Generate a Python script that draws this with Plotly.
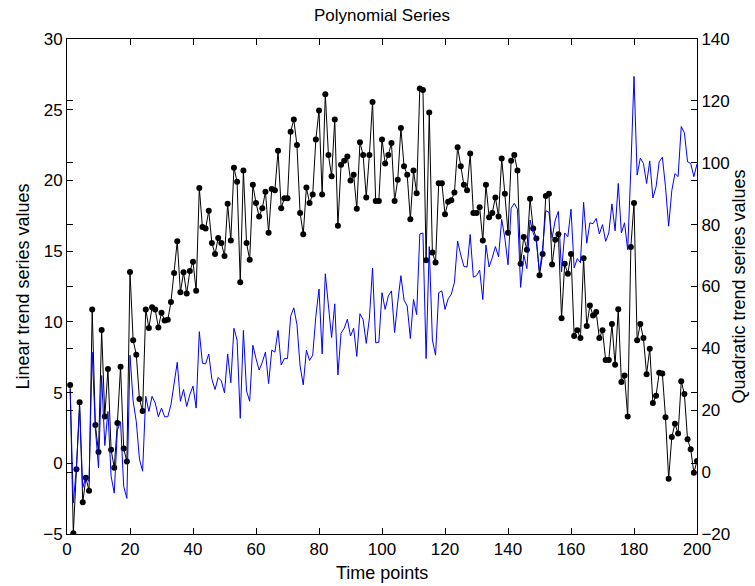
import plotly.graph_objects as go

time_points = list(range(1, 201))

linear_trend = [
    5.54, -4.95, -0.42, 4.31, -2.76, -1.03, -1.94, 10.88, 2.7, 0.8,
    9.42, 3.3, 6.66, 0.95, -0.31, 2.85, 6.83, 1.05, 0.12, 13.52,
    8.7, 7.67, 4.55, 3.7, 10.88, 9.56, 11.04, 10.88, 9.6, 10.65,
    10.1, 10.15, 11.4, 13.45, 15.7, 12.1, 13.5, 12.0, 13.6, 14.25,
    12.2, 19.47, 16.7, 16.6, 17.85, 15.57, 14.8, 15.93, 15.57, 14.66,
    18.35, 15.75, 20.9, 19.9, 12.8, 20.7, 15.57, 14.4, 19.7, 18.4,
    17.45, 18.04, 19.2, 16.3, 19.4, 19.3, 22.1, 18.04, 18.74, 18.74,
    23.45, 24.3, 22.5, 17.7, 16.2, 19.5, 18.4, 19.0, 22.9, 24.95,
    19.0, 26.1, 21.8, 20.3, 24.3, 16.8, 21.1, 21.4, 21.7, 20.0,
    20.4, 18.0, 22.7, 21.8, 18.8, 21.8, 25.55, 18.55, 18.55, 22.9,
    21.2, 21.8, 22.65, 18.55, 20.05, 23.7, 21.0, 20.4, 17.25, 20.7,
    19.1, 26.5, 26.4, 14.35, 24.8, 14.9, 14.2, 19.8, 19.8, 17.6,
    18.5, 18.6, 19.15, 22.35, 21.0, 19.7, 19.3, 21.9, 17.7, 17.7,
    18.1, 15.75, 19.7, 17.4, 17.7, 18.8, 17.45, 21.55, 19.05, 16.3,
    21.4, 21.8, 20.7, 14.1, 16.0, 15.1, 18.7, 16.6, 15.9, 13.3,
    14.8, 18.9, 19.05, 14.05, 15.8, 16.2, 10.25, 14.1, 13.4, 14.8,
    9.0, 9.4, 8.85, 14.5, 9.7, 11.15, 10.45, 10.7, 8.85, 9.4,
    7.3, 7.3, 9.85, 6.96, 10.9, 5.75, 6.2, 3.3, 15.3, 18.4,
    8.7, 9.85, 8.85, 6.3, 8.1, 4.26, 4.78, 6.4, 6.35, 3.25,
    -1.1, 1.85, 2.8, 2.1, 5.8, 4.9, 1.7, 1.0, -0.67, 0.16,
]

quadratic_trend = [
    26.9, -10.0, 1.6, 21.0, -5.0, -1.6, -3.0, 38.8, 14.1, 1.4,
    31.2, 8.6, 19.6, -1.3, -6.8, 13.6, 16.3, -4.6, -8.5, 37.8,
    22.9, 16.3, 4.2, 0.3, 24.5, 19.6, 24.5, 22.4, 17.9, 20.7,
    17.9, 17.9, 21.8, 29.5, 35.5, 22.9, 26.7, 21.2, 25.1, 27.8,
    20.7, 45.4, 35.2, 35.0, 38.2, 30.0, 26.7, 30.6, 29.5, 25.6,
    38.2, 28.9, 46.5, 42.7, 17.4, 45.8, 26.2, 22.9, 41.0, 36.7,
    33.0, 35.5, 38.8, 28.6, 39.4, 38.8, 45.8, 34.6, 36.7, 36.7,
    50.4, 53.1, 47.7, 34.3, 28.2, 39.4, 36.1, 37.8, 50.4, 59.2,
    38.2, 64.1, 52.6, 43.5, 54.4, 31.4, 44.9, 46.5, 49.4, 44.0,
    46.5, 37.4, 51.2, 49.3, 41.6, 49.8, 66.0, 41.8, 42.0, 58.0,
    52.6, 56.9, 58.6, 45.1, 55.0, 63.5, 55.6, 53.7, 43.2, 55.8,
    50.9, 77.0, 77.3, 36.7, 72.9, 42.7, 37.8, 58.0, 58.6, 52.6,
    56.0, 57.5, 61.4, 74.7, 70.2, 66.5, 66.3, 76.8, 63.0, 63.5,
    65.3, 55.8, 73.4, 66.3, 69.3, 72.9, 69.6, 81.7, 75.7, 67.0,
    85.3, 86.9, 85.0, 59.7, 70.2, 65.8, 81.5, 77.3, 74.6, 64.7,
    72.4, 84.5, 84.0, 75.7, 81.5, 84.3, 64.7, 77.3, 76.1, 85.0,
    66.0, 69.0, 67.7, 87.2, 74.0, 80.6, 80.3, 82.0, 77.0, 80.0,
    74.6, 77.3, 86.7, 78.0, 93.3, 77.3, 80.6, 71.8, 98.0, 127.9,
    96.0, 101.5, 99.8, 93.3, 100.6, 88.6, 92.2, 100.3, 101.8, 92.2,
    79.5, 91.0, 96.5, 95.5, 111.7, 109.7, 100.3, 99.8, 95.5, 99.6,
]

x_ticks = [0, 20, 40, 60, 80, 100, 120, 140, 160, 180, 200]
left_ticks = [-5, 0, 5, 10, 15, 20, 25, 30]
right_ticks = [-20, 0, 20, 40, 60, 80, 100, 120, 140]

FONT = "Liberation Sans, Arial, Helvetica, sans-serif"

fig = go.Figure()
fig.add_trace(go.Scatter(
    x=time_points, y=linear_trend, mode="lines+markers",
    line=dict(color="black", width=1),
    marker=dict(color="black", size=6, symbol="circle"),
    yaxis="y", showlegend=False,
))
fig.add_trace(go.Scatter(
    x=time_points, y=quadratic_trend, mode="lines",
    line=dict(color="#0000FF", width=1),
    yaxis="y2", showlegend=False,
))

axis_common = dict(
    showgrid=False, zeroline=False, showline=True, linecolor="black",
    linewidth=1, ticks="inside", ticklen=6, tickcolor="black",
    automargin=False,
    tickfont=dict(family=FONT, size=17, color="black"),
)

fig.update_layout(
    width=755, height=586,
    margin=dict(l=67, r=58, t=39, b=52, autoexpand=False),
    paper_bgcolor="white", plot_bgcolor="white",
    font=dict(family=FONT, size=17, color="black"),
    xaxis=dict(range=[0, 200], tickvals=x_ticks, mirror="ticks",
               **axis_common),
    yaxis=dict(range=[-5, 30], tickvals=left_ticks, mirror="ticks",
               **axis_common),
    yaxis2=dict(range=[-20, 140], tickvals=right_ticks, overlaying="y",
                side="right", mirror="ticks", **axis_common),
    annotations=[
        dict(text="Polynomial Series", x=0.5, y=1, xref="paper", yref="paper",
             xanchor="center", yanchor="middle", yshift=24,
             showarrow=False, font=dict(family=FONT, size=17)),
        dict(text="Time points", x=0.5, y=0, xref="paper", yref="paper",
             xanchor="center", yanchor="middle", yshift=-39,
             showarrow=False, font=dict(family=FONT, size=18)),
        dict(text="Linear trend series values", x=0, y=0.5, xref="paper",
             yref="paper", xanchor="center", yanchor="middle", xshift=-45,
             textangle=-90, showarrow=False,
             font=dict(family=FONT, size=18)),
        dict(text="Quadratic trend series values", x=1, y=0.5, xref="paper",
             yref="paper", xanchor="center", yanchor="middle", xshift=41,
             textangle=-90, showarrow=False,
             font=dict(family=FONT, size=18)),
    ],
)

fig.write_html(
    "out.html",
    config={"displayModeBar": False},
    post_script="document.body.style.margin='0';",
)
